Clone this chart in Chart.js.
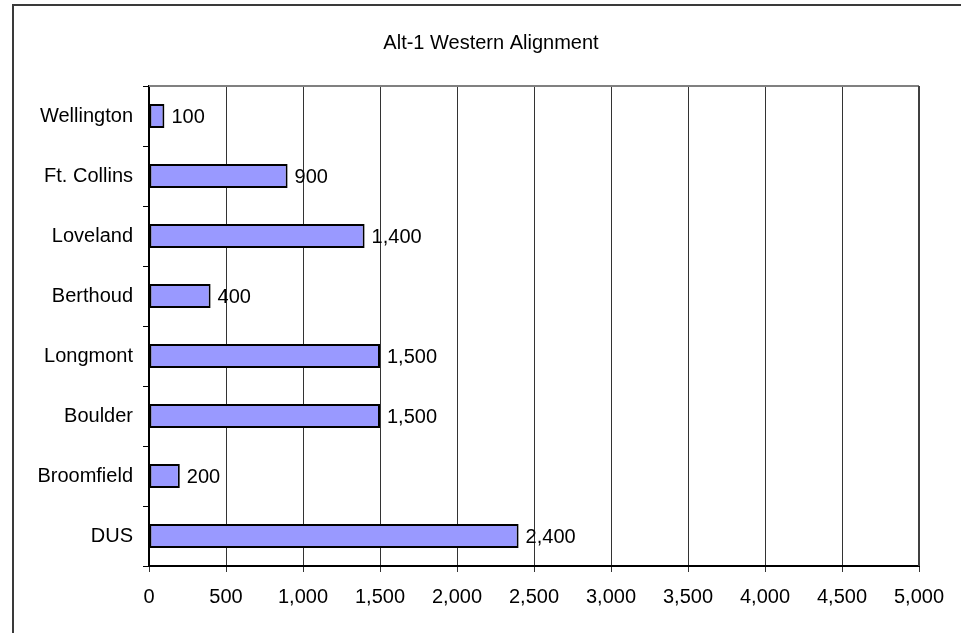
<!DOCTYPE html>
<html>
<head>
<meta charset="utf-8">
<script src="https://cdn.jsdelivr.net/npm/chart.js@4"></script>
<style>
  body { margin: 0; background: #fff; overflow: hidden; }
  #frame { position: absolute; left: 12px; top: 4px; width: 2000px; height: 2000px; border-left: 2px solid #3a3a3a; border-top: 2px solid #3a3a3a; }
  #graph { position: absolute; left: 0; top: 0; }
</style>
</head>
<body>
<div id="frame"></div>
<canvas id="graph" width="961" height="633"></canvas>
<script>
// === DATA === //

const chartTitle = "Alt-1 Western Alignment"
const stations = ["Wellington", "Ft. Collins", "Loveland", "Berthoud", "Longmont", "Boulder", "Broomfield", "DUS"]
const boardings = [100, 900, 1400, 400, 1500, 1500, 200, 2400]
const xTicks = [0, 500, 1000, 1500, 2000, 2500, 3000, 3500, 4000, 4500, 5000]

const fontFamily = "'Liberation Sans', Arial, sans-serif"

function withCommas(n) {
  return Number(n).toLocaleString('en-US')
}

// === PLUGINS === //

// title centred on the outer frame rather than the plot
const frameTitle = {
  id: 'frameTitle',
  afterDraw(chart) {
    const { ctx } = chart
    ctx.save()
    ctx.font = `20px ${fontFamily}`
    ctx.fillStyle = '#000'
    ctx.textAlign = 'center'
    ctx.textBaseline = 'middle'
    ctx.fillText(chartTitle, 491, 43)
    ctx.restore()
  }
}

// top and right edge of the plot area
const plotFrame = {
  id: 'plotFrame',
  beforeDatasetsDraw(chart) {
    const { ctx, chartArea } = chart
    ctx.save()
    ctx.strokeStyle = '#808080'
    ctx.lineWidth = 2
    ctx.beginPath()
    ctx.moveTo(chartArea.left, chartArea.top)
    ctx.lineTo(chartArea.right, chartArea.top)
    ctx.stroke()
    ctx.strokeStyle = '#404040'
    ctx.beginPath()
    ctx.moveTo(chartArea.right, chartArea.top)
    ctx.lineTo(chartArea.right, chartArea.bottom)
    ctx.stroke()
    ctx.restore()
  }
}

// value next to the end of each bar
const barValues = {
  id: 'barValues',
  afterDatasetsDraw(chart) {
    const { ctx } = chart
    const meta = chart.getDatasetMeta(0)
    ctx.save()
    ctx.font = `20px ${fontFamily}`
    ctx.fillStyle = '#000'
    ctx.textAlign = 'left'
    ctx.textBaseline = 'middle'
    meta.data.forEach((bar, i) => {
      ctx.fillText(withCommas(chart.data.datasets[0].data[i]), bar.x + 7, bar.y + 1)
    })
    ctx.restore()
  }
}

// === CHART === //

const data = {
  labels: stations,
  datasets: [{
    data: boardings,
    backgroundColor: '#9999ff',
    borderColor: '#000',
    borderWidth: 2,
    borderSkipped: false,
    categoryPercentage: 1,
    barPercentage: 0.4
  }]
}

const config = {
  type: 'bar',
  data,
  options: {
    indexAxis: 'y',
    responsive: false,
    animation: false,
    layout: { padding: { left: 0, right: 42, top: 86, bottom: 0 } },
    plugins: {
      legend: { display: false },
      tooltip: { enabled: false },
      title: { display: false }
    },
    scales: {
      x: {
        min: xTicks[0],
        max: xTicks[xTicks.length - 1],
        afterFit(scale) { scale.height = 67 },
        afterBuildTicks(scale) { scale.ticks = xTicks.map(v => ({ value: v })) },
        border: { color: '#000', width: 2 },
        grid: { color: '#333', lineWidth: 1, tickLength: 6 },
        ticks: {
          color: '#000',
          padding: 13,
          maxRotation: 0,
          font: { family: fontFamily, size: 20 },
          callback: v => withCommas(v)
        }
      },
      y: {
        afterFit(scale) { scale.width = 149 },
        border: { color: '#000', width: 2 },
        grid: { offset: true, drawOnChartArea: false, color: '#000', tickLength: 6 },
        ticks: {
          color: '#000',
          padding: 10,
          font: { family: fontFamily, size: 20 }
        }
      }
    }
  },
  plugins: [plotFrame, barValues, frameTitle]
}

new Chart(document.getElementById('graph'), config)
</script>
</body>
</html>
